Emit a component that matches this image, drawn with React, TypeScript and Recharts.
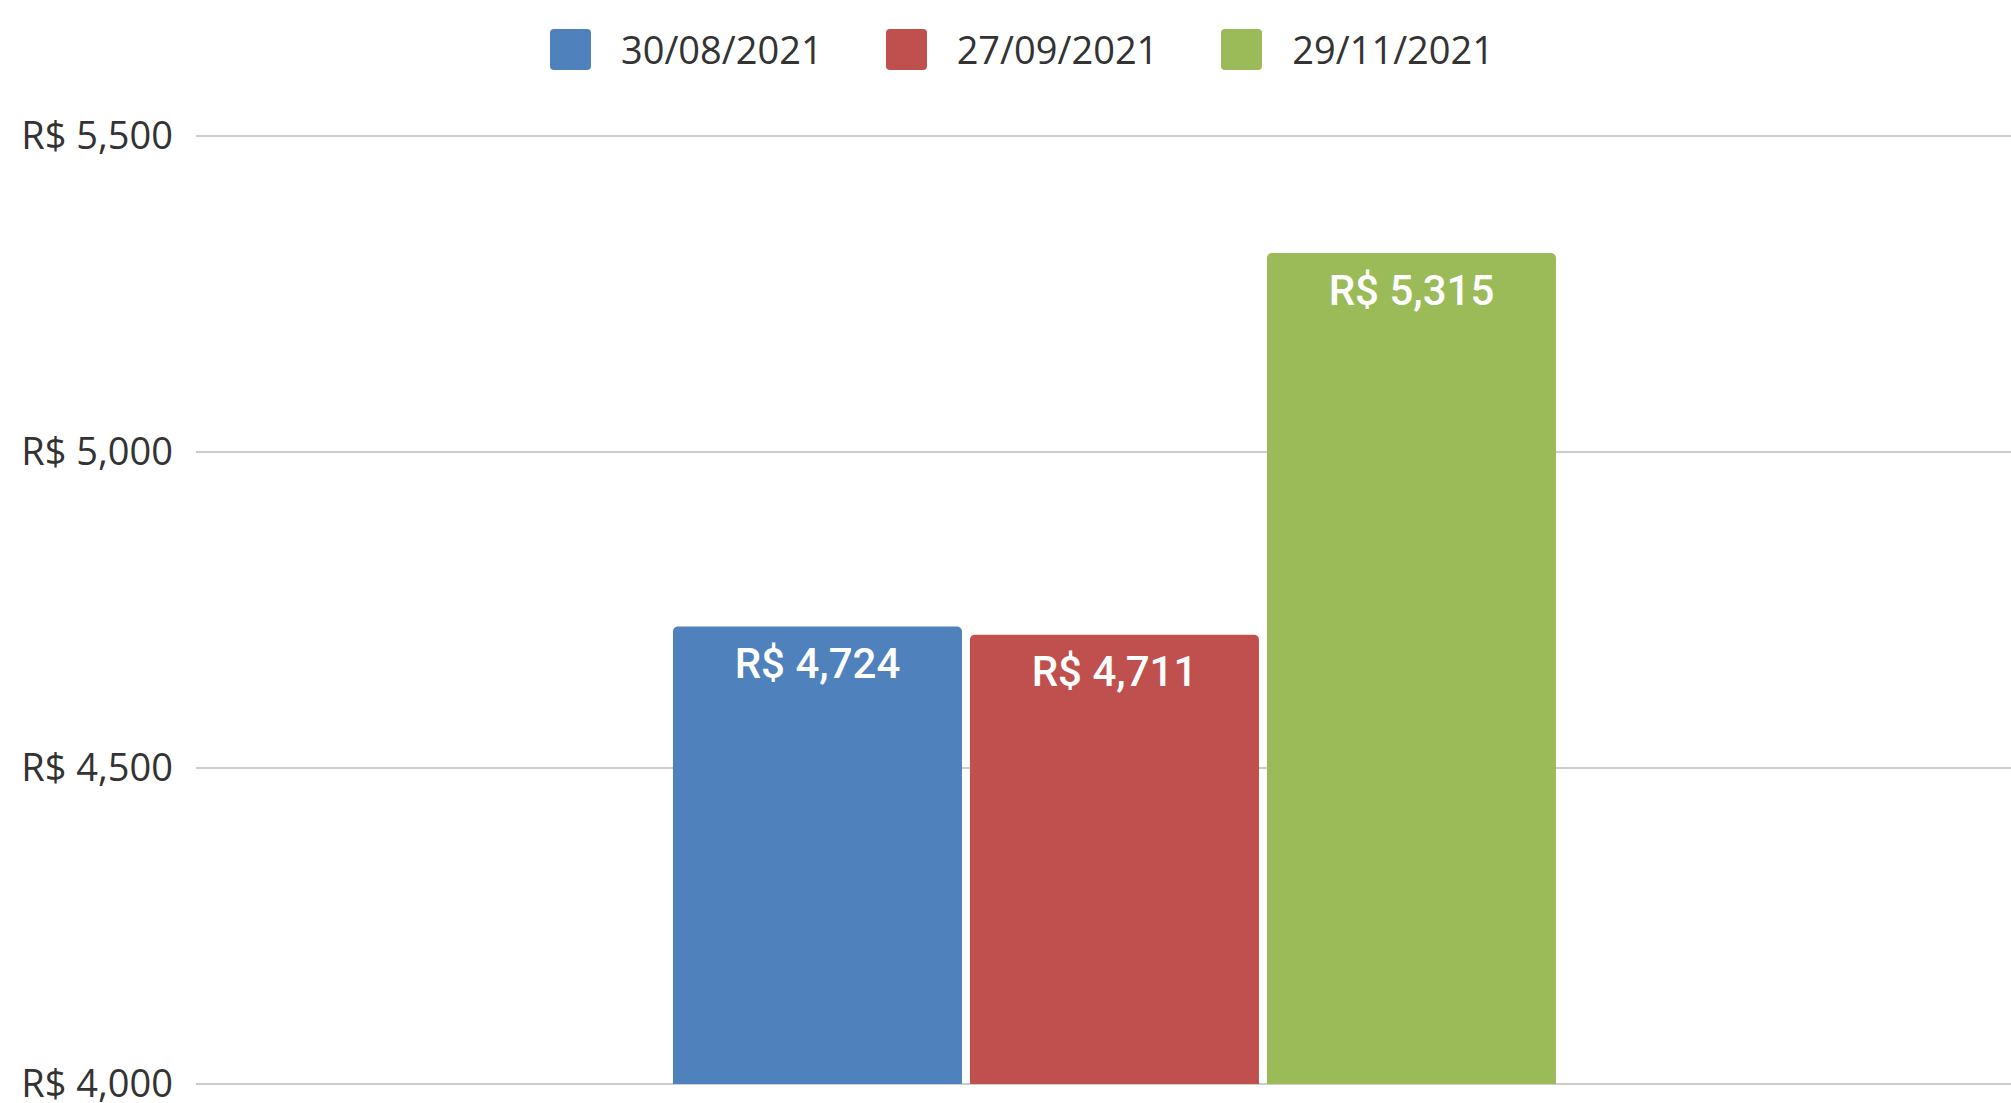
import { BarChart, Bar, XAxis, YAxis, CartesianGrid, Legend, LabelList } from 'recharts';

const categories = ['Valor'];
const seriesNames = ['30/08/2021', '27/09/2021', '29/11/2021'];
const seriesValues = [[4724], [4711], [5315]];
const yTicks = [4000, 4500, 5000, 5500];

const colors = ['#4F81BD', '#C0504D', '#9BBB59'];

const data = categories.map((name, i) => {
  const row: Record<string, string | number> = { name };
  seriesNames.forEach((s, j) => {
    row[s] = seriesValues[j][i];
  });
  return row;
});

const money = (v: number) => `R$ ${v.toLocaleString('en-US')}`;

const LegendContent = () => (
  <div style={{ display: 'flex', justifyContent: 'center', height: 100, paddingLeft: 10, fontFamily: '"Open Sans", sans-serif', fontSize: 38, color: '#333' }}>
    {seriesNames.map((s, i) => (
      <div key={s} style={{ display: 'flex', alignItems: 'center', height: 98, marginLeft: i === 0 ? 0 : 63 }}>
        <div style={{ width: 41, height: 41, borderRadius: 4, background: colors[i], marginRight: 30 }} />
        <span>{s}</span>
      </div>
    ))}
  </div>
);

const App = () => {
  return (
    <div style={{ position: 'absolute', left: 0, top: 0, background: '#fff' }}>
      <BarChart
        width={2011}
        height={1103}
        data={data}
        margin={{ top: 36, right: -23, left: 0, bottom: 19 }}
        barCategoryGap="25.95%"
        barGap={8}
      >
        <CartesianGrid vertical={false} stroke="#cccccc" strokeWidth={2} />
        <XAxis dataKey="name" hide />
        <YAxis
          domain={[4000, 5500]}
          ticks={yTicks}
          interval={0}
          width={196}
          axisLine={false}
          tickLine={false}
          tickMargin={17}
          tickFormatter={money}
          tick={{ fontFamily: '"Open Sans", sans-serif', fontSize: 38, fill: '#333' }}
        />
        <Legend verticalAlign="top" content={<LegendContent />} wrapperStyle={{ top: 0 }} />
        {seriesNames.map((s, i) => (
          <Bar key={s} dataKey={s} fill={colors[i]} radius={[5, 5, 0, 0]} isAnimationActive={false}>
            <LabelList
              dataKey={s}
              position="insideTop"
              offset={22}
              formatter={(v: number) => money(v)}
              style={{ fontFamily: 'Roboto, sans-serif', fontSize: 42, fontWeight: 500, fill: '#fff' }}
            />
          </Bar>
        ))}
      </BarChart>
    </div>
  );
};

export default App;
